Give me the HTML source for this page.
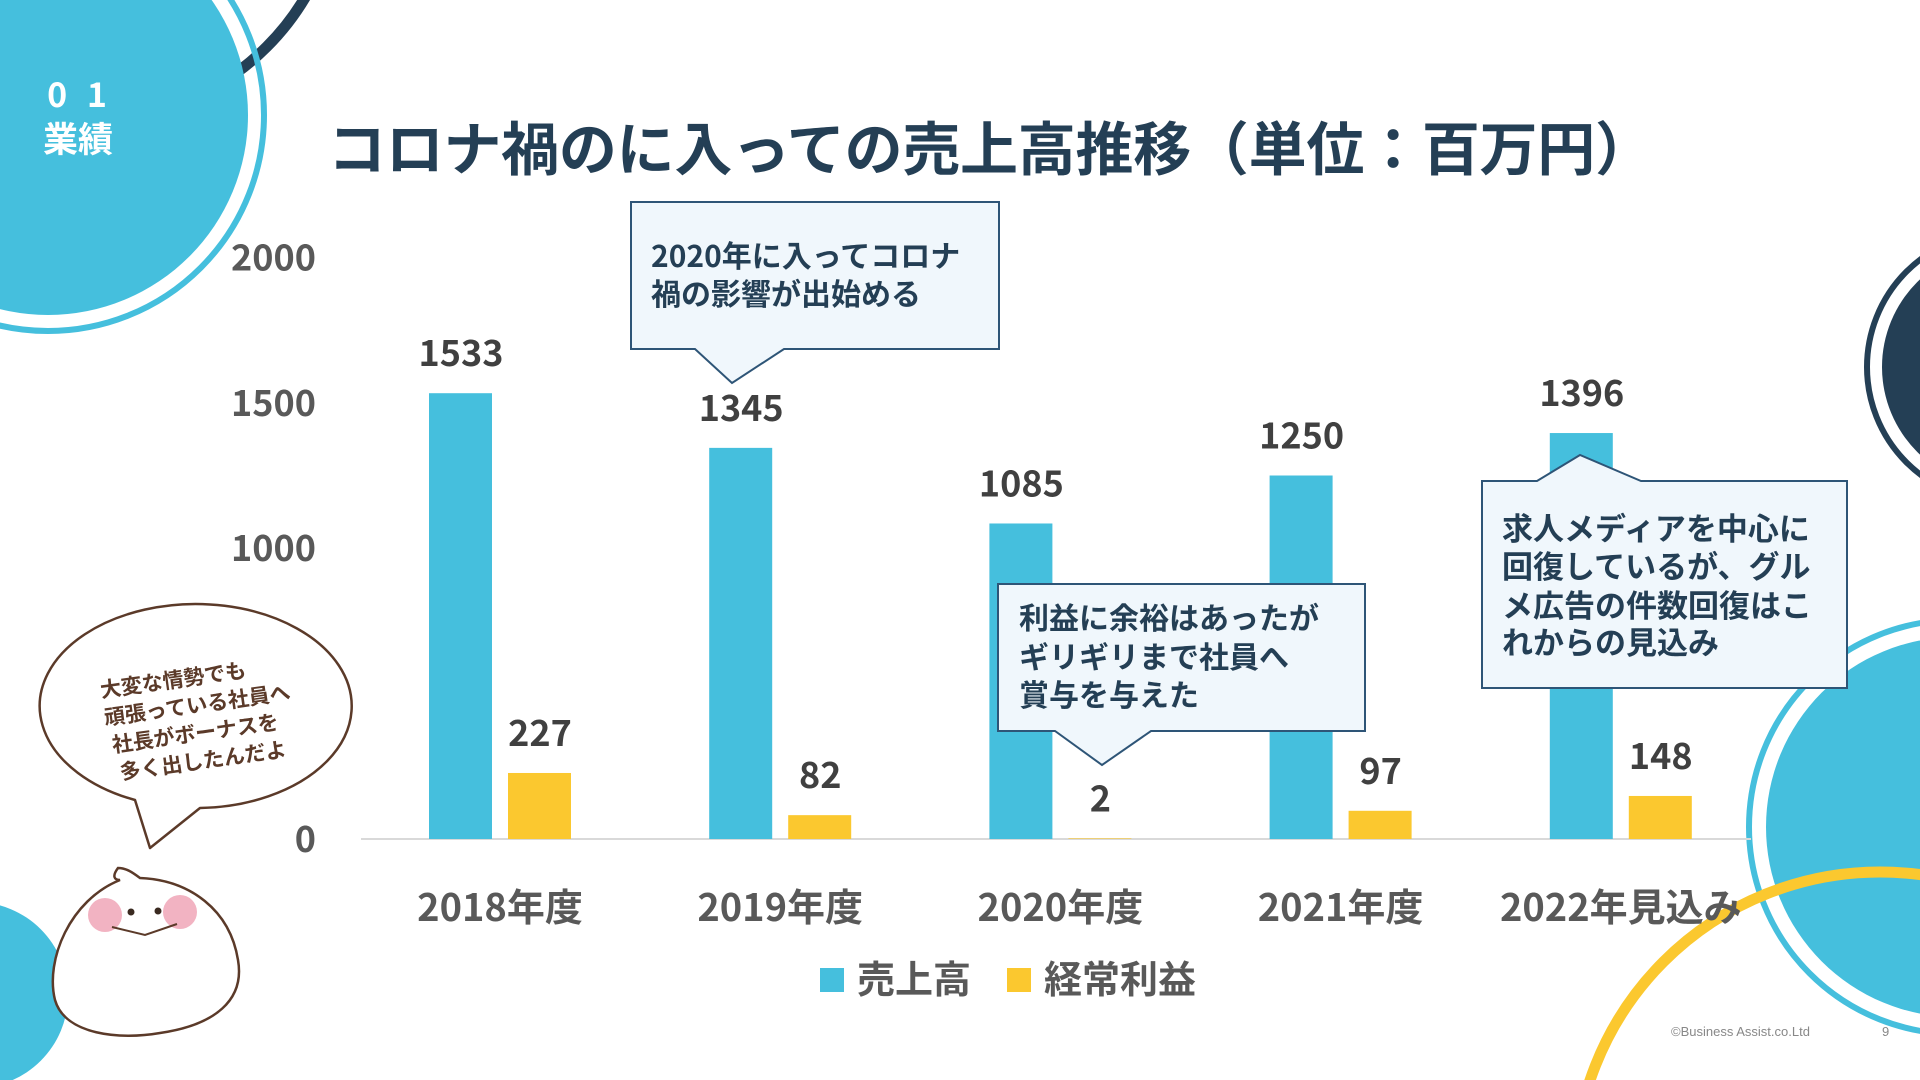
<!DOCTYPE html>
<html><head><meta charset="utf-8">
<style>
html,body{margin:0;padding:0;background:#fff;width:1920px;height:1080px;overflow:hidden;}
svg{display:block;}
text{font-family:"Liberation Sans","Noto Sans CJK JP",sans-serif;}
.jp{font-family:"Noto Sans CJK JP","Liberation Sans",sans-serif;}
</style></head>
<body>
<svg id="slide" width="1920" height="1080" viewBox="0 0 1920 1080" xmlns="http://www.w3.org/2000/svg">
  <g>
    <circle cx="90" cy="-130" r="250" fill="none" stroke="#243F55" stroke-width="11"/>
    <circle cx="48" cy="115" r="200" fill="#45BFDD"/>
    <circle cx="48" cy="115" r="216" fill="none" stroke="#45BFDD" stroke-width="6"/>
    <circle cx="2002" cy="367" r="120" fill="#243F55"/>
    <circle cx="2002" cy="367" r="135" fill="none" stroke="#243F55" stroke-width="6"/>
    <circle cx="1956" cy="827" r="190" fill="#45BFDD"/>
    <circle cx="1956" cy="827" r="207" fill="none" stroke="#45BFDD" stroke-width="6"/>
    <circle cx="1880" cy="1178" r="306" fill="none" stroke="#FBC82F" stroke-width="11"/>
    <circle cx="-25" cy="995" r="93" fill="#45BFDD"/>
  </g>

  <text x="80" y="107" fill="#fff" font-size="34" font-weight="bold" text-anchor="middle" class="jp" letter-spacing="6">0 1</text>
  <text x="78" y="152" fill="#fff" font-size="35" font-weight="bold" text-anchor="middle" class="jp">業績</text>

  <text x="328" y="170" fill="#243F55" font-size="58" font-weight="bold" class="jp" textLength="1325" lengthAdjust="spacing">コロナ禍のに入っての売上高推移（単位：百万円）</text>

  <g id="chart"></g>

  <g>
    <path d="M631 202 H999 V349 H784 L732 383 L695 349 H631 Z" fill="#F0F7FC" stroke="#2E5577" stroke-width="2"/>
    <text x="651" y="267" fill="#243F55" font-size="30" font-weight="bold" class="jp">2020年に入ってコロナ</text>
    <text x="651" y="305" fill="#243F55" font-size="30" font-weight="bold" class="jp">禍の影響が出始める</text>
  </g>
  <g>
    <path d="M998 584 H1365 V731 H1151 L1102 765 L1055 731 H998 Z" fill="#F0F7FC" stroke="#2E5577" stroke-width="2"/>
    <text x="1019" y="629" fill="#243F55" font-size="30" font-weight="bold" class="jp">利益に余裕はあったが</text>
    <text x="1019" y="668" fill="#243F55" font-size="30" font-weight="bold" class="jp">ギリギリまで社員へ</text>
    <text x="1019" y="706" fill="#243F55" font-size="30" font-weight="bold" class="jp">賞与を与えた</text>
  </g>
  <g>
    <path d="M1482 481 H1537 L1580 455 L1641 481 H1847 V688 H1482 Z" fill="#F0F7FC" stroke="#2E5577" stroke-width="2"/>
    <text x="1502" y="540" fill="#243F55" font-size="31" font-weight="bold" class="jp">求人メディアを中心に</text>
    <text x="1502" y="578" fill="#243F55" font-size="31" font-weight="bold" class="jp">回復しているが、グル</text>
    <text x="1502" y="617" fill="#243F55" font-size="31" font-weight="bold" class="jp">メ広告の件数回復はこ</text>
    <text x="1502" y="654" fill="#243F55" font-size="31" font-weight="bold" class="jp">れからの見込み</text>
  </g>

  <g>
    <path d="M135 800 A156 102 0 1 1 200 808 L150 848 Z" fill="#fff" stroke="#5B3A29" stroke-width="2.5" stroke-linejoin="round"/>
    <g transform="rotate(-8 200 710)" fill="#5B3A29" font-size="21" font-weight="bold" class="jp">
      <text x="104" y="684">大変な情勢でも</text>
      <text x="104" y="712">頑張っている社員へ</text>
      <text x="108" y="740">社長がボーナスを</text>
      <text x="112" y="768">多く出したんだよ</text>
    </g>
  </g>
  <g>
    <path d="M118 868 C112 876 114 880 120 880 C70 900 45 960 55 1000 C65 1035 120 1040 160 1033 C215 1025 245 1000 238 960 C230 910 190 880 140 878 C132 872 126 868 118 868 Z" fill="#fff" stroke="#5B3A29" stroke-width="2.5"/>
    <circle cx="105" cy="915" r="17" fill="#F2B3C2"/>
    <circle cx="180" cy="912" r="17" fill="#F2B3C2"/>
    <circle cx="131" cy="912" r="3.5" fill="#3a2a20"/>
    <circle cx="158" cy="911" r="3.5" fill="#3a2a20"/>
    <path d="M112 927 L145 935 L177 924" fill="none" stroke="#5B3A29" stroke-width="2"/>
  </g>

  <text x="1671" y="1036" fill="#888" font-size="13">©Business Assist.co.Ltd</text>
  <text x="1882" y="1036" fill="#888" font-size="13">9</text>
</svg>
<script>
const categories = ["2018年度","2019年度","2020年度","2021年度","2022年見込み"];
const salesValues = [1533,1345,1085,1250,1396];
const profitValues = [227,82,2,97,148];
const yTicks = [0,1000,1500,2000];
const seriesNames = ["売上高","経常利益"];

const NS = "http://www.w3.org/2000/svg";
const chart = document.getElementById("chart");
const y0 = 839, yPer = 145.4 / 500;
function yScale(v){ return y0 - v * yPer; }
function xCenter(i){ return 500 + i * 280.2; }
function mk(tag, attrs, txt){
  const e = document.createElementNS(NS, tag);
  for (const k in attrs) e.setAttribute(k, attrs[k]);
  if (txt !== undefined) e.textContent = txt;
  chart.appendChild(e);
  return e;
}
yTicks.forEach(t => {
  const e = mk("text", {x:316, y:yScale(t)+13, "text-anchor":"end", "font-size":36, "font-weight":"bold", fill:"#595959", class:"jp"}, String(t));
  
  
});
const base = mk("line", {x1:361, x2:1751, y1:y0, y2:y0, stroke:"#D9D9D9", "stroke-width":2});


categories.forEach((c, i) => {
  const cx = xCenter(i);
  const hs = y0 - yScale(salesValues[i]);
  const b1 = mk("rect", {x:cx-71, y:yScale(salesValues[i]), width:63, height:hs, fill:"#45BFDD"});
  
  
  const hp = y0 - yScale(profitValues[i]);
  const b2 = mk("rect", {x:cx+8, y:yScale(profitValues[i]), width:63, height:hp, fill:"#FBC82F"});
  
  
  const l1 = mk("text", {x:cx-39, y:yScale(salesValues[i])-27, "text-anchor":"middle", "font-size":36, "font-weight":"bold", fill:"#404040", class:"jp"}, String(salesValues[i]));
  
  
  const l2 = mk("text", {x:cx+40, y:yScale(profitValues[i])-27, "text-anchor":"middle", "font-size":36, "font-weight":"bold", fill:"#404040", class:"jp"}, String(profitValues[i]));
  
  
  const cl = mk("text", {x:cx, y:921, "text-anchor":"middle", "font-size":38, "font-weight":"bold", fill:"#595959", class:"jp"}, c);
  
  
});
const legendColors = ["#45BFDD","#FBC82F"];
const legendX = [820, 1007];
seriesNames.forEach((n, i) => {
  const sq = mk("rect", {x:legendX[i], y:968, width:24, height:24, fill:legendColors[i]});
  
  
  const t = mk("text", {x:legendX[i]+37, y:993, "font-size":38, "font-weight":"bold", fill:"#595959", class:"jp"}, n);
  
  
});
</script>
</body></html>
